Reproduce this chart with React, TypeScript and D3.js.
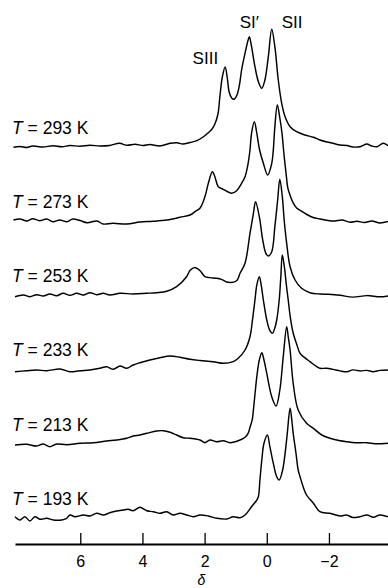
import React, { useRef, useEffect } from "react";
import * as d3 from "d3";

// temperatures, top trace first
const temperatures = [293, 273, 253, 233, 213, 193];

// [chemical shift δ, relative intensity]
const spectrum293: [number, number][] = [
  [8.15, -0.3], [7.94, 0.5], [7.72, -0.5], [7.53, 1], [7.21, 0], [6.88, 1.3], [6.59, 0.3], [6.33, 1.5],
  [6.01, 0.7], [5.69, 1.7], [5.37, 1], [5.06, 1.5], [4.74, 3.7], [4.5, 1.7], [4.24, 2.7], [3.98, 1.5],
  [3.76, 2.5], [3.44, 1], [3.11, 3.7], [2.89, 4.3], [2.7, 3], [2.47, 4.5], [2.25, 6.3], [2.05, 10],
  [1.89, 14], [1.76, 18], [1.67, 23], [1.57, 33], [1.51, 50], [1.43, 70], [1.34, 80], [1.27, 69],
  [1.21, 55], [1.13, 49], [1.05, 47.7], [0.96, 52], [0.88, 62], [0.81, 77], [0.7, 93.7], [0.6, 107],
  [0.56, 110.3], [0.49, 100.3], [0.38, 80.3], [0.27, 65.3], [0.16, 58.7], [0.06, 67], [-0.05, 90.3],
  [-0.16, 117.7], [-0.26, 100.3], [-0.37, 67], [-0.48, 43.7], [-0.59, 30.3], [-0.75, 20.3], [-0.96, 15.3],
  [-1.23, 12], [-1.5, 9.7], [-1.71, 7], [-1.94, 5], [-2.13, 3.7], [-2.36, 2], [-2.58, 1.5], [-2.77, 0],
  [-3.0, 0.3], [-3.22, 3], [-3.38, 1], [-3.55, 0.3], [-3.74, 3.7], [-3.9, 1.3],
];

const spectrum273: [number, number][] = [
  [8.15, 1.3], [7.94, 2.3], [7.72, 0.3], [7.53, 2.6], [7.31, 0.6], [7.08, 2.3], [6.88, -0.4], [6.66, 1.3],
  [6.43, -0.4], [6.24, 2.3], [6.01, 0.8], [5.78, -1.4], [5.46, 0.3], [5.27, -2.7], [4.95, -2], [4.5, -2.7],
  [4.08, -0.7], [3.66, 0], [3.21, 1.3], [2.79, 4], [2.47, 6.3], [2.31, 9.6], [2.15, 13], [1.99, 24.6],
  [1.88, 38], [1.75, 49.6], [1.67, 44.6], [1.56, 34.6], [1.4, 32], [1.13, 28], [0.97, 30.6], [0.81, 38],
  [0.7, 44.6], [0.6, 58], [0.54, 71.3], [0.49, 88], [0.4, 99.6], [0.32, 88], [0.23, 71.3], [0.11, 58],
  [-0.03, 46.3], [-0.16, 58], [-0.21, 71.3], [-0.26, 94.6], [-0.34, 116.3], [-0.42, 103.3], [-0.49, 88],
  [-0.55, 68], [-0.62, 48], [-0.68, 33], [-0.75, 26], [-0.84, 19], [-0.97, 13], [-1.07, 11], [-1.29, 6.8],
  [-1.49, 3.8], [-1.71, 2.3], [-1.97, 0.8], [-2.19, 0.3], [-2.42, 1.3], [-2.68, -1], [-2.9, 0],
  [-3.15, -1.2], [-3.38, 0.3], [-3.64, -1.7], [-3.9, -0.2],
];

const spectrum253: [number, number][] = [
  [8.1, -1.1], [7.83, 0.6], [7.62, -1.1], [7.4, 0.9], [7.19, -0.4], [6.98, 1.6], [6.76, -0.1], [6.55, 2.3],
  [6.33, 0.3], [6.12, 2.3], [5.9, 0.6], [5.69, 2.9], [5.47, 0.9], [5.26, 2.3], [5.05, 0.6], [4.72, 2.3],
  [4.3, 1.6], [3.86, 2.3], [3.54, 2.9], [3.22, 4.3], [2.9, 8.9], [2.58, 18.9], [2.47, 25], [2.33, 28],
  [2.15, 25], [1.99, 19], [1.83, 18], [1.61, 17.3], [1.44, 16], [1.24, 13.3], [0.97, 14.9], [0.86, 22.3],
  [0.7, 32.3], [0.54, 62.3], [0.43, 82.3], [0.36, 93.9], [0.24, 78.9], [0.13, 55.6], [0.03, 42.3],
  [-0.05, 39.6], [-0.16, 43.9], [-0.26, 68.9], [-0.35, 95.6], [-0.42, 116.3], [-0.5, 98.9], [-0.56, 75.6],
  [-0.64, 52.3], [-0.75, 28.9], [-0.91, 15.6], [-1.12, 7.3], [-1.39, 2.9], [-1.71, 1.6], [-1.98, 1.3],
  [-2.36, 0.3], [-2.77, -1.5], [-3.22, 0], [-3.64, -1.2], [-3.9, -0.3],
];

const spectrum233: [number, number][] = [
  [8.1, -1.8], [7.73, -0.8], [7.4, -0.1], [7.08, -0.8], [6.65, 0.9], [6.33, -1.8], [6.01, -0.8], [5.69, -0.1],
  [5.37, 1.6], [5.15, 3.2], [4.94, 0.6], [4.72, 3.9], [4.51, 1.6], [4.3, 4.9], [4.08, 7.2], [3.76, 9.9],
  [3.44, 12.2], [3.11, 13.9], [2.79, 12.6], [2.47, 10.6], [2.15, 9.4], [1.72, 8.2], [1.4, 6.6], [1.08, 8.2],
  [0.92, 11.6], [0.7, 19.9], [0.54, 33.2], [0.46, 50], [0.38, 69.9], [0.32, 85], [0.24, 93.2], [0.18, 85],
  [0.11, 69.9], [0.0, 49.9], [-0.09, 40], [-0.18, 36.6], [-0.26, 42], [-0.32, 49.9], [-0.4, 69.9],
  [-0.45, 92], [-0.5, 114.9], [-0.57, 102], [-0.63, 85], [-0.69, 69.9], [-0.76, 52], [-0.85, 36.6],
  [-0.96, 26], [-1.07, 16.6], [-1.23, 12], [-1.39, 8.2], [-1.61, 3.2], [-1.71, 1.6], [-1.93, 1.6],
  [-2.13, 0.5], [-2.36, -1], [-2.58, -1.8], [-2.77, 0], [-3.0, -1], [-3.22, -0.5], [-3.42, -1.8],
  [-3.64, -0.5], [-3.9, 0],
];

const spectrum213: [number, number][] = [
  [8.1, -0.8], [7.73, -0.1], [7.4, -1.8], [7.19, 0.2], [6.98, -2.5], [6.76, 0.2], [6.44, -0.5], [6.01, 0.9],
  [5.58, 1.5], [5.15, 3.2], [4.83, 4.2], [4.51, 5.9], [4.3, 8.2], [4.08, 9.2], [3.86, 10.9], [3.54, 13.2],
  [3.33, 13.5], [3.11, 11.9], [2.9, 9.2], [2.69, 6.5], [2.47, 5.9], [2.15, 4.2], [1.99, 1.5], [1.83, 4.2],
  [1.61, 2.5], [1.4, 3.5], [1.18, 1.5], [0.86, 4.2], [0.7, 6.9], [0.6, 10.9], [0.53, 18], [0.47, 24],
  [0.43, 34.2], [0.32, 67.5], [0.24, 84.2], [0.16, 91.5], [0.09, 84.2], [0.0, 70.9], [-0.16, 47.5],
  [-0.3, 38.2], [-0.42, 54.2], [-0.53, 87.5], [-0.64, 117.5], [-0.69, 107.5], [-0.75, 94.2], [-0.85, 60.9],
  [-1.01, 34.2], [-1.28, 20.9], [-1.5, 15.9], [-1.77, 9.2], [-2.03, 6], [-2.36, 3.5], [-2.58, 2.5],
  [-2.84, 1.5], [-3.22, 1.5], [-3.48, 0.5], [-3.9, 1],
];

const spectrum193: [number, number][] = [
  [8.1, 1.8], [7.94, -1.5], [7.78, 1.8], [7.62, -2.5], [7.46, 1.8], [7.3, -0.8], [7.08, 0.2], [6.87, -1.5],
  [6.6, -1.5], [6.44, 0.2], [6.33, 3.5], [6.17, 1.8], [5.9, 3.5], [5.69, 2.5], [5.47, 5.2], [5.26, 3.5],
  [5.05, 5.8], [4.83, 7.5], [4.62, 8.5], [4.46, 9.2], [4.3, 7.8], [4.08, 11.2], [3.86, 7.8], [3.65, 6.8],
  [3.44, 5.2], [3.22, 6.8], [3.01, 3.5], [2.79, 5.2], [2.58, 3.5], [2.36, 1.8], [2.15, 3.5], [1.88, 2.5],
  [1.61, 0.2], [1.29, -0.5], [1.08, 1.8], [0.86, 0.8], [0.7, 3.5], [0.49, 11.8], [0.32, 18.5], [0.27, 21.8],
  [0.22, 38.5], [0.16, 58.5], [0.09, 75.2], [-0.02, 83.5], [-0.1, 71.8], [-0.21, 55.2], [-0.32, 41.8],
  [-0.4, 38.5], [-0.51, 48.5], [-0.59, 65.2], [-0.66, 85.2], [-0.75, 110.2], [-0.81, 97], [-0.85, 85.2],
  [-0.94, 65.2], [-1.01, 48.5], [-1.07, 41.8], [-1.17, 31.8], [-1.28, 23.5], [-1.5, 15.2], [-1.71, 6.8],
  [-2.03, 5.2], [-2.36, 2.5], [-2.57, 3.5], [-2.77, 1], [-3.0, 1.8], [-3.22, 3.5], [-3.43, 1.2],
  [-3.64, 3.5], [-3.9, 1.8],
];

const spectra = [spectrum293, spectrum273, spectrum253, spectrum233, spectrum213, spectrum193];

const xTicks = [6, 4, 2, 0, -2];
const peakLabels = ["SIII", "SI\u2032", "SII"];
const peakShifts = [1.34, 0.56, -0.16];

const FONT = "'Liberation Sans', Arial, Helvetica, sans-serif";

function App() {
  const svgRef = useRef<SVGSVGElement>(null);

  useEffect(() => {
    const svg = d3.select(svgRef.current);
    svg.selectAll("*").remove();

    const axisY = 544;
    const x = d3.scaleLinear().domain([8.1, -3.9]).range([15, 388]);
    const base = d3.scalePoint<number>().domain(temperatures).range([147, 518.5]);
    const amp = d3.scaleLinear().domain([0, 100]).range([0, 100]);

    const traces = svg.append("g");
    temperatures.forEach((t, i) => {
      const b = base(t) as number;
      const line = d3
        .line<[number, number]>()
        .x(d => x(d[0]))
        .y(d => b - amp(d[1]))
        .curve(d3.curveCatmullRom.alpha(0.5));

      traces
        .append("path")
        .attr("d", line(spectra[i]))
        .attr("fill", "none")
        .attr("stroke", "#000")
        .attr("stroke-width", 1.45)
        .attr("stroke-linejoin", "round");

      const label = traces
        .append("text")
        .attr("x", 12)
        .attr("y", b - 13.5)
        .attr("font-family", FONT)
        .attr("font-size", 17.5)
        .attr("fill", "#000");
      label.append("tspan").attr("font-style", "italic").text("T");
      label.append("tspan").text(` = ${t} K`);
    });

    // peak labels above the top trace
    const b0 = base(temperatures[0]) as number;
    const peakTop = (d: number) => {
      const p = spectrum293.find(s => s[0] === d);
      return b0 - amp(p ? p[1] : 0);
    };
    const labels = svg.append("g").attr("font-family", FONT).attr("font-size", 17);
    labels
      .append("text")
      .attr("x", x(peakShifts[0]) - 7)
      .attr("y", peakTop(peakShifts[0]) - 3)
      .attr("text-anchor", "end")
      .text(peakLabels[0]);
    labels
      .append("text")
      .attr("x", x(peakShifts[1]))
      .attr("y", peakTop(peakShifts[1]) - 9)
      .attr("text-anchor", "middle")
      .text(peakLabels[1]);
    labels
      .append("text")
      .attr("x", x(peakShifts[2]) + 10)
      .attr("y", peakTop(peakShifts[2]) - 1.5)
      .attr("text-anchor", "start")
      .text(peakLabels[2]);

    // δ axis
    const axis = svg
      .append("g")
      .attr("transform", `translate(0,${axisY})`)
      .call(
        d3
          .axisBottom(x)
          .tickValues(xTicks)
          .tickSizeInner(-11)
          .tickSizeOuter(0)
          .tickPadding(12)
      );
    axis.select(".domain").attr("stroke-width", 2);
    axis.selectAll(".tick line").attr("stroke-width", 1.3);
    axis.selectAll(".tick text").attr("font-family", FONT).attr("font-size", 16).attr("fill", "#000");

    svg
      .append("text")
      .attr("x", (x.range()[0] + x.range()[1]) / 2)
      .attr("y", 584.5)
      .attr("text-anchor", "middle")
      .attr("font-family", FONT)
      .attr("font-style", "italic")
      .attr("font-size", 14)
      .text("\u03b4");
  }, []);

  return (
    <svg
      ref={svgRef}
      width={388}
      height={588}
      style={{ position: "absolute", left: 0, top: 0, background: "#fff" }}
    />
  );
}

export default App;
